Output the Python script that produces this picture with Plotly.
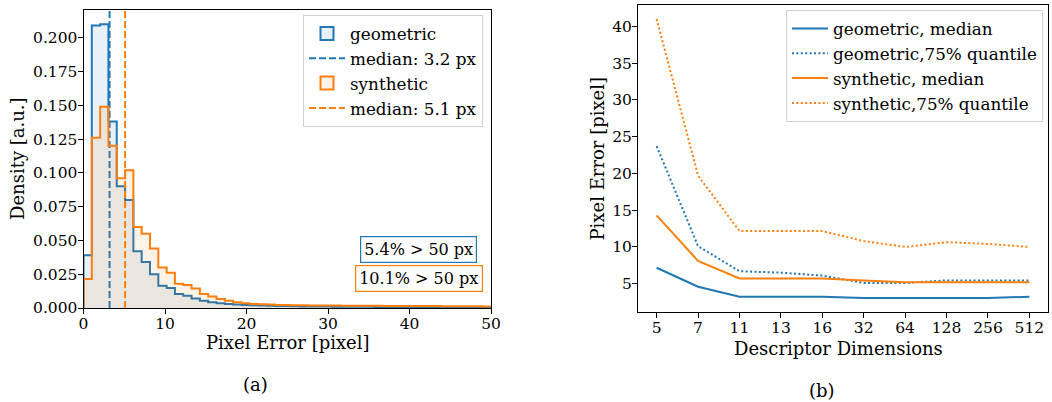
import numpy as np
import plotly.graph_objects as go

# ---------------- data: (a) histogram of pixel errors ----------------
bin_width = 1.02
geo_density = [0.039, 0.209, 0.210, 0.138, 0.090, 0.080, 0.042, 0.034, 0.025, 0.0165,
               0.0148, 0.0104, 0.0091, 0.0071, 0.0054, 0.0042, 0.0035, 0.0030, 0.0025, 0.0022,
               0.0020, 0.0018, 0.0017, 0.0015, 0.0014, 0.0013, 0.0012, 0.0012, 0.0011, 0.0011,
               0.0010, 0.0010, 0.0009, 0.0009, 0.0009, 0.0008, 0.0008, 0.0008, 0.0008, 0.0007,
               0.0007, 0.0007, 0.0007, 0.0007, 0.0006, 0.0006, 0.0006, 0.0006, 0.0006, 0.0006]
syn_density = [0.0215, 0.126, 0.149, 0.120, 0.096, 0.102, 0.060, 0.055, 0.044, 0.030,
               0.026, 0.018, 0.017, 0.0145, 0.0104, 0.0086, 0.0067, 0.0054, 0.0042, 0.0035,
               0.0030, 0.0027, 0.0025, 0.0023, 0.0022, 0.0021, 0.0020, 0.0019, 0.0019, 0.0018,
               0.0018, 0.0017, 0.0017, 0.0016, 0.0016, 0.0016, 0.0015, 0.0015, 0.0015, 0.0014,
               0.0014, 0.0014, 0.0014, 0.0013, 0.0013, 0.0013, 0.0013, 0.0013, 0.0012, 0.0012]
geo_median_px = 3.2
syn_median_px = 5.1
geo_over50 = "5.4% > 50 px"
syn_over50 = "10.1% > 50 px"

# ---------------- data: (b) error vs descriptor dimension ----------------
dims = ["5", "7", "11", "13", "16", "32", "64", "128", "256", "512"]
geo_median = [7.17, 4.59, 3.23, 3.23, 3.23, 3.05, 3.05, 3.05, 3.05, 3.23]
geo_q75 = [23.7, 10.1, 6.7, 6.5, 6.1, 5.1, 5.1, 5.45, 5.45, 5.45]
syn_median = [14.3, 8.1, 5.7, 5.7, 5.7, 5.45, 5.2, 5.2, 5.2, 5.2]
syn_q75 = [41.0, 19.7, 12.15, 12.15, 12.15, 10.8, 10.0, 10.65, 10.4, 10.0]

BLUE = "rgb(31,119,180)"
ORANGE = "rgb(255,127,14)"
BLUE_FILL = "rgba(31,119,180,0.1)"
ORANGE_FILL = "rgba(255,127,14,0.1)"
FONT = "DejaVu Serif"
W, H = 1052, 402


def px_x(v):
    return v / W


def px_y(v):
    return 1 - v / H


def step_xy(dens):
    edges = list(np.arange(len(dens) + 1) * bin_width)
    return [0.0] + edges, [0.0] + list(dens) + [dens[-1]]


ytop_a = max(geo_density + syn_density) * 1.05
fig = go.Figure()


def hist_traces(dens, color, fillcolor, name, median):
    x, y = step_xy(dens)
    fig.add_trace(go.Scatter(x=x, y=y, mode="lines", line=dict(color=color, width=2, shape="hv"),
                             fill="tozeroy", fillcolor=fillcolor, name=name, showlegend=False,
                             legendgroup=name, xaxis="x", yaxis="y", hoverinfo="skip"))
    # legend patch (no data, legend only)
    fig.add_trace(go.Scatter(x=[None], y=[None], mode="markers",
                             marker=dict(symbol="square", size=13, color=fillcolor,
                                         line=dict(color=color, width=2)),
                             name=name, legendgroup=name, legend="legend", xaxis="x", yaxis="y"))
    fig.add_trace(go.Scatter(x=[median, median], y=[0, ytop_a], mode="lines",
                             line=dict(color=color, width=2, dash="7px,3px"),
                             name=f"median: {median} px", legend="legend", xaxis="x", yaxis="y"))


hist_traces(geo_density, BLUE, BLUE_FILL, "geometric", geo_median_px)
hist_traces(syn_density, ORANGE, ORANGE_FILL, "synthetic", syn_median_px)

# (b)
for name, vals, col, dash in [
    ("geometric, median", geo_median, BLUE, "solid"),
    ("geometric,75% quantile", geo_q75, BLUE, "2px,2.4px"),
    ("synthetic, median", syn_median, ORANGE, "solid"),
    ("synthetic,75% quantile", syn_q75, ORANGE, "2px,2.4px"),
]:
    fig.add_trace(go.Scatter(x=dims, y=vals, mode="lines", line=dict(color=col, width=2, dash=dash),
                             name=name, legend="legend2", xaxis="x2", yaxis="y2"))

axis_common = dict(showline=True, linecolor="black", linewidth=1, mirror=True, ticks="outside",
                   ticklen=5, tickwidth=1, tickcolor="black", showgrid=False, zeroline=False,
                   automargin=False, tickfont=dict(family=FONT, size=15.5, color="black"))

legend_common = dict(xanchor="right", yanchor="top", bgcolor="rgba(255,255,255,0.8)",
                     bordercolor="#d0d0d0", borderwidth=1,
                     font=dict(family=FONT, size=16.8, color="black"), itemwidth=36,
                     traceorder="normal")

fig.update_layout(
    width=W, height=H, margin=dict(l=0, r=0, t=0, b=0, pad=0), autosize=False,
    paper_bgcolor="white", plot_bgcolor="white",
    font=dict(family=FONT, color="black"),
    xaxis=dict(domain=[px_x(83.5), px_x(491)], range=[0, 50], dtick=10, tick0=0, anchor="y",
               ticklabelstandoff=-4, **axis_common),
    yaxis=dict(domain=[px_y(308), px_y(10)], range=[0, ytop_a], dtick=0.025, tick0=0,
               tickformat=".3f", anchor="x", ticklabelstandoff=-3, **axis_common),
    xaxis2=dict(domain=[px_x(638), px_x(1048)], type="category", range=[-0.45, 9.45],
                anchor="y2", ticklabelstandoff=-4, **axis_common),
    yaxis2=dict(domain=[px_y(312), px_y(5)], range=[1.15, 42.9], dtick=5, tick0=0,
                anchor="x2", ticklabelstandoff=-3, **axis_common),
    legend=dict(x=px_x(483), y=px_y(15), **legend_common),
    legend2=dict(x=px_x(1043), y=px_y(10), **legend_common),
    showlegend=True,
)

ann_font = dict(family=FONT, size=18, color="black")
annotations = [
    dict(text="Pixel Error [pixel]", x=px_x(287.5), y=px_y(342), font=ann_font),
    dict(text="Density [a.u.]", x=px_x(18), y=px_y(159), font=ann_font, textangle=-90),
    dict(text="(a)", x=px_x(255.5), y=px_y(384), font=ann_font),
    dict(text="Descriptor Dimensions", x=px_x(838), y=px_y(348), font=ann_font),
    dict(text="Pixel Error [pixel]", x=px_x(597), y=px_y(158.5), font=ann_font, textangle=-90),
    dict(text="(b)", x=px_x(822), y=px_y(390), font=ann_font),
    dict(text=geo_over50, x=px_x(418), y=px_y(249),
         font=dict(family=FONT, size=16, color="black"),
         bordercolor=BLUE, borderwidth=1.2, borderpad=3, bgcolor="white"),
    dict(text=syn_over50, x=px_x(418.5), y=px_y(278),
         font=dict(family=FONT, size=16, color="black"),
         bordercolor=ORANGE, borderwidth=1.2, borderpad=3, bgcolor="white"),
]
for a in annotations:
    a.update(xref="paper", yref="paper", showarrow=False, xanchor="center", yanchor="middle")
fig.update_layout(annotations=annotations)

fig.write_html("out.html", config={"displayModeBar": False},
               post_script="document.body.style.margin='0';")
